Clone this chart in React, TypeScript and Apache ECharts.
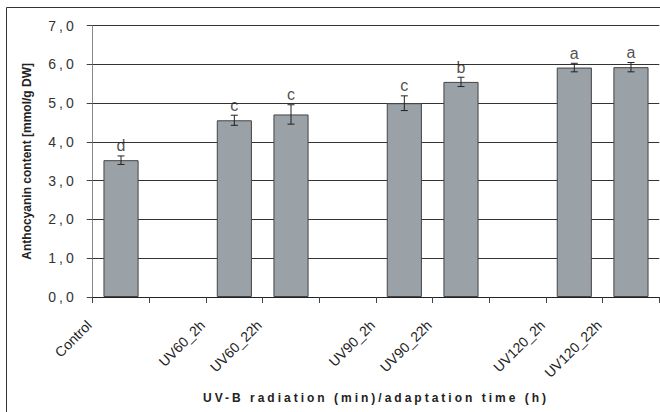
import React, { useEffect, useRef } from "react";
import * as echarts from "echarts";

const categories = ["Control", "", "UV60_2h", "UV60_22h", "", "UV90_2h", "UV90_22h", "", "UV120_2h", "UV120_22h"];
const means: (number | null)[] = [3.53, null, 4.56, 4.71, null, 5.0, 5.55, null, 5.92, 5.93];
const errors: (number | null)[] = [0.11, null, 0.13, 0.25, null, 0.19, 0.12, null, 0.11, 0.12];
const letters = ["d", "", "c", "c", "", "c", "b", "", "a", "a"];
const yTicks = [0, 1, 2, 3, 4, 5, 6, 7];
const xTitle = "UV-B radiation (min)/adaptation time (h)";
const yTitle = "Anthocyanin content [mmol/g DW]";

const FONT = "Liberation Sans, Arial, sans-serif";

export default function App() {
  const ref = useRef<HTMLDivElement>(null);
  useEffect(() => {
    document.body.style.margin = "0";
    const el = ref.current!;
    const chart = echarts.init(el, null, { renderer: "svg" });
    const errData = means.map((m, i) => (m == null ? [i, NaN, NaN] : [i, m, errors[i] as number]));
    const letterData = means.map((m, i) => (m == null ? [i, NaN] : [i, m + (errors[i] as number)]));
    chart.setOption({
      animation: false,
      backgroundColor: "#ffffff",
      textStyle: { fontFamily: FONT },
      grid: { left: 92.7, right: 0.7, top: 25.7, bottom: 115, containLabel: false },
      xAxis: {
        type: "category",
        data: categories,
        boundaryGap: true,
        name: xTitle,
        nameLocation: "middle",
        nameGap: 95,
        nameTextStyle: { fontFamily: FONT, fontSize: 12, fontWeight: "bold", color: "#222", verticalAlign: "top" },
        axisLine: { show: true, lineStyle: { color: "#222", width: 1 } },
        axisTick: { show: true, length: 6, inside: false, alignWithLabel: false, interval: 0, lineStyle: { color: "#444" } },
        axisLabel: {
          interval: 0,
          rotate: 45,
          margin: -6,
          padding: [0, 45, 0, 0],
          fontFamily: FONT,
          fontSize: 14,
          color: "#222",
        },
        splitLine: { show: false },
      },
      yAxis: {
        type: "value",
        min: yTicks[0],
        max: yTicks[yTicks.length - 1],
        interval: 1,
        name: yTitle,
        nameLocation: "middle",
        nameGap: 60,
        nameRotate: 90,
        nameTextStyle: { fontFamily: FONT, fontSize: 12, fontWeight: "bold", color: "#222" },
        axisLine: { show: true, lineStyle: { color: "#888", width: 1 } },
        axisTick: { show: true, length: 6, lineStyle: { color: "#444" } },
        axisLabel: {
          margin: 16,
          fontFamily: FONT,
          fontSize: 14,
          color: "#333",
          formatter: (v: number) => v.toFixed(1).replace(".", ","),
        },
        splitLine: { show: true, lineStyle: { color: "#333", width: 1 } },
      },
      series: [
        {
          type: "bar",
          data: means,
          barWidth: "62%",
          itemStyle: { color: "#9aa1a7", borderColor: "#444", borderWidth: 1 },
          z: 2,
        },
        {
          type: "custom",
          data: errData,
          z: 3,
          renderItem: (params: any, api: any) => {
            const m = api.value(1);
            const e = api.value(2);
            if (isNaN(m)) return null;
            const x = api.value(0);
            const hi = api.coord([x, m + e]);
            const lo = api.coord([x, m - e]);
            const cap = 3.5;
            const style = { stroke: "#222", lineWidth: 1 };
            return {
              type: "group",
              children: [
                { type: "line", shape: { x1: hi[0], y1: hi[1], x2: lo[0], y2: lo[1] }, style },
                { type: "line", shape: { x1: hi[0] - cap, y1: hi[1], x2: hi[0] + cap, y2: hi[1] }, style },
                { type: "line", shape: { x1: lo[0] - cap, y1: lo[1], x2: lo[0] + cap, y2: lo[1] }, style },
              ],
            };
          },
        },
        {
          type: "scatter",
          data: letterData,
          symbolSize: 0,
          z: 4,
          label: {
            show: true,
            position: "top",
            distance: 2,
            fontFamily: FONT,
            fontSize: 16,
            color: "#222",
            formatter: (p: any) => letters[p.dataIndex],
          },
        },
      ],
      graphic: [
        {
          type: "rect",
          shape: { x: 6.5, y: 7.5, width: 700, height: 420 },
          style: { fill: "none", stroke: "#333", lineWidth: 1 },
          silent: true,
        },
      ],
    });
    const applySpacing = () => {
      el.querySelectorAll("text").forEach((t) => {
        const s = t.textContent || "";
        if (s === xTitle) t.setAttribute("letter-spacing", "3");
        else if (/^\d,0$/.test(s)) t.setAttribute("letter-spacing", "3");
      });
    };
    chart.on("finished", applySpacing);
    applySpacing();
    const timer = setTimeout(applySpacing, 50);
    return () => {
      clearTimeout(timer);
      chart.dispose();
    };
  }, []);
  return <div ref={ref} style={{ position: "fixed", left: 0, top: 0, width: 660, height: 412 }} />;
}
